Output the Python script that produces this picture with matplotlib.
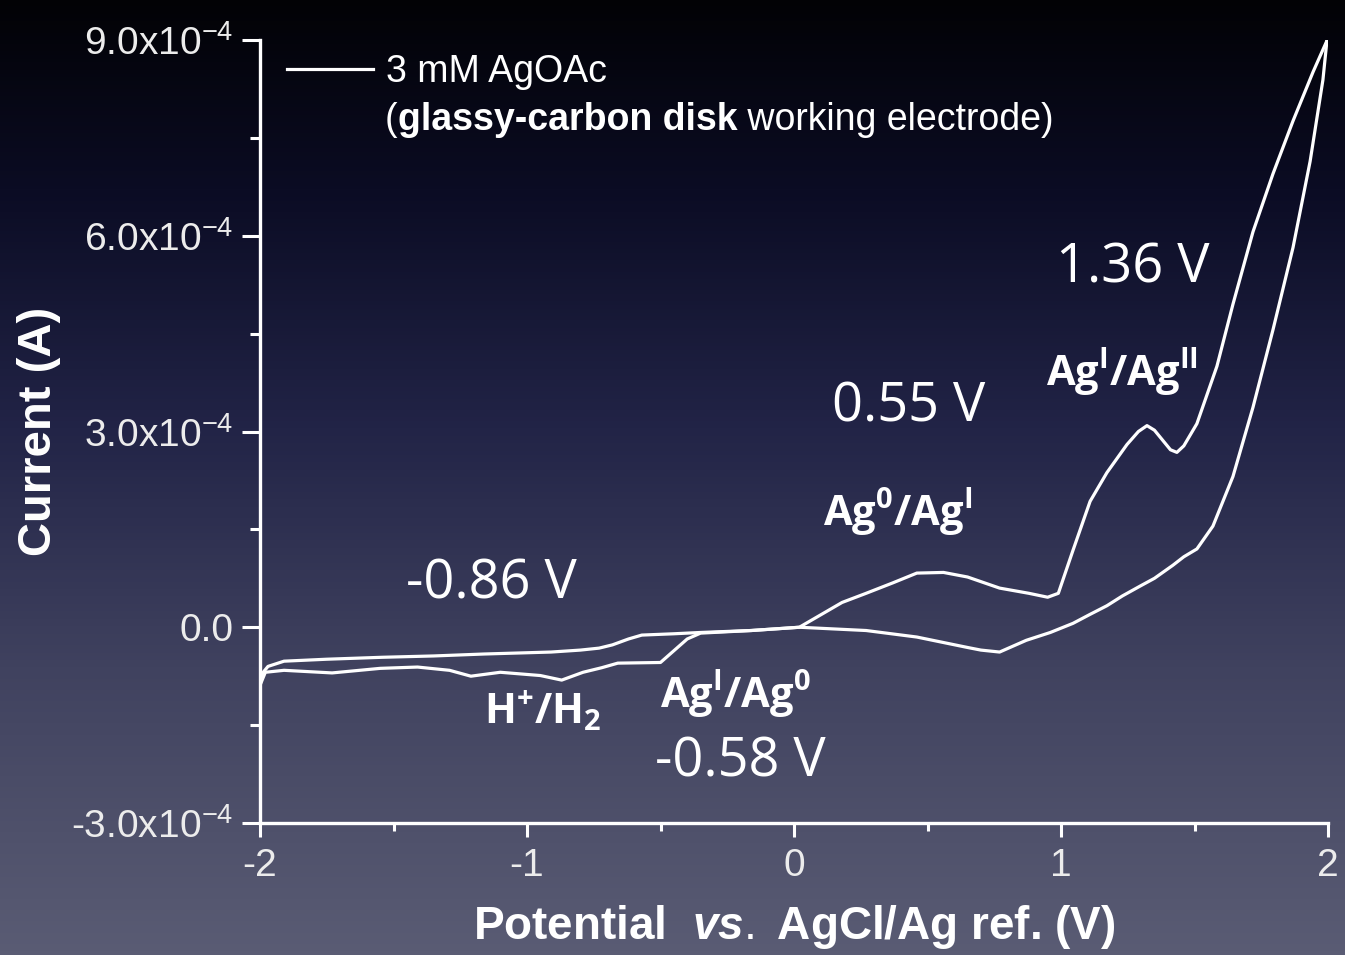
import matplotlib
matplotlib.use('Agg')
import matplotlib.pyplot as plt
import numpy as np
from matplotlib.colors import LinearSegmentedColormap

plt.rcParams['font.family'] = ['Liberation Sans', 'DejaVu Sans']
plt.rcParams['mathtext.fontset'] = 'custom'
plt.rcParams['mathtext.rm'] = 'Liberation Sans'
plt.rcParams['mathtext.it'] = 'Liberation Sans:bold:italic'
plt.rcParams['mathtext.bf'] = 'Open Sans:bold'

# forward scan (-2 V -> 2 V), current in units of 1e-4 A
fwd_v = [-2.0, -1.99, -1.97, -1.91, -1.75, -1.54, -1.35, -1.16, -0.91, -0.80, -0.73, -0.68,
         -0.62, -0.57, -0.45, -0.35, -0.16, 0.02, 0.10, 0.18, 0.27, 0.37, 0.46, 0.56, 0.65,
         0.77, 0.88, 0.95, 0.99, 1.045, 1.109, 1.172, 1.247, 1.29, 1.322, 1.35, 1.382, 1.41,
         1.434, 1.46, 1.509, 1.584, 1.644, 1.719, 1.794, 1.869, 1.944, 1.996]
fwd_i = [-0.89, -0.70, -0.60, -0.52, -0.49, -0.46, -0.44, -0.41, -0.38, -0.35, -0.32, -0.27,
         -0.18, -0.12, -0.10, -0.08, -0.05, 0.0, 0.19, 0.38, 0.52, 0.68, 0.83, 0.84, 0.77,
         0.60, 0.52, 0.46, 0.52, 1.18, 1.93, 2.37, 2.80, 3.00, 3.09, 3.02, 2.86, 2.72,
         2.68, 2.78, 3.12, 4.00, 4.95, 6.06, 6.95, 7.76, 8.51, 8.99]

# reverse scan (2 V -> -2 V)
rev_v = [1.996, 1.981, 1.933, 1.869, 1.794, 1.719, 1.644, 1.569, 1.509, 1.46, 1.419, 1.35,
         1.296, 1.23, 1.172, 1.11, 1.045, 0.96, 0.87, 0.77, 0.70, 0.65, 0.46, 0.27, 0.02,
         -0.16, -0.35, -0.40, -0.45, -0.50, -0.66, -0.72, -0.79, -0.87, -0.95, -1.10, -1.21,
         -1.29, -1.41, -1.55, -1.73, -1.91, -1.98, -2.0]
rev_i = [8.99, 8.39, 7.14, 5.82, 4.56, 3.37, 2.31, 1.55, 1.20, 1.08, 0.95, 0.75,
         0.63, 0.48, 0.33, 0.20, 0.06, -0.08, -0.20, -0.38, -0.35, -0.31, -0.15, -0.05, 0.0,
         -0.05, -0.09, -0.18, -0.36, -0.54, -0.55, -0.62, -0.69, -0.81, -0.74, -0.69, -0.75,
         -0.66, -0.61, -0.63, -0.70, -0.66, -0.69, -0.89]

unit = 1e-4
yticks = [-3e-4, 0.0, 3e-4, 6e-4, 9e-4]
ylabels = ['-3.0x10$^{-4}$', '0.0', '3.0x10$^{-4}$', '6.0x10$^{-4}$', '9.0x10$^{-4}$']
xticks = [-2, -1, 0, 1, 2]

# peak annotations: (text, x, y) in data units
values = [('1.36 V', 1.27, 5.50), ('0.55 V', 0.43, 3.38), ('-0.86 V', -1.135, 0.67),
          ('-0.58 V', -0.20, -2.07)]
couples = [(r'Ag$^{\mathbf{I}}$/Ag$^{\mathbf{II}}$', 1.23, 3.91),
           (r'Ag$^{\mathbf{0}}$/Ag$^{\mathbf{I}}$', 0.39, 1.76),
           (r'Ag$^{\mathbf{I}}$/Ag$^{\mathbf{0}}$', -0.22, -1.03),
           (r'H$^{\mathbf{+}}$/H$_{\mathbf{2}}$', -0.94, -1.30)]

fig = plt.figure(figsize=(13.45, 9.55), dpi=100)
fig.patch.set_facecolor('black')

# background gradient
bg = fig.add_axes([0, 0, 1, 1], zorder=-1)
cmap = LinearSegmentedColormap.from_list('bg', [(0.0, '#5a5c74'), (0.3, '#40425f'),
                                               (0.55, '#222447'), (0.8, '#0b0c24'),
                                               (1.0, '#020205')])
bg.imshow(np.linspace(1, 0, 256).reshape(-1, 1), cmap=cmap, aspect='auto',
          extent=[0, 1, 0, 1])
bg.axis('off')

ax = fig.add_axes([260/1345, 1 - 823/955, 1068/1345, 783/955])
ax.set_facecolor('none')

lw = 2.3
ax.plot(fwd_v, np.array(fwd_i) * unit, color='white', lw=lw, solid_joinstyle='round',
        label='3 mM AgOAc')
ax.plot(rev_v, np.array(rev_i) * unit, color='white', lw=lw, solid_joinstyle='round')

ax.set_xlim(-2, 2)
ax.set_ylim(-3e-4, 9e-4)
for s in ['top', 'right']:
    ax.spines[s].set_visible(False)
for s in ['left', 'bottom']:
    ax.spines[s].set_color('white')
    ax.spines[s].set_linewidth(2.4)

ax.set_xticks(xticks, [str(t) for t in xticks])
ax.set_xticks([-1.5, -0.5, 0.5, 1.5], minor=True)
ax.set_yticks(yticks, ylabels)
ax.set_yticks([-1.5e-4, 1.5e-4, 4.5e-4, 7.5e-4], minor=True)
ax.tick_params(axis='both', which='both', colors='white', width=2.2, direction='out')
ax.tick_params(axis='y', which='major', length=13, pad=6, labelsize=28, labelcolor='#ececec')
ax.tick_params(axis='y', which='minor', length=7)
ax.tick_params(axis='x', which='major', length=10, pad=8, labelsize=28, labelcolor='#ececec')
ax.tick_params(axis='x', which='minor', length=6)

ax.set_xlabel(r'Potential  $\it{vs.}$ AgCl/Ag ref. (V)', color='white', fontsize=33,
              fontweight='bold')
ax.xaxis.set_label_coords(0.5, -0.102)
ax.set_ylabel('Current (A)', color='white', fontsize=34, fontweight='bold')
ax.yaxis.set_label_coords(-0.186, 0.5)

leg = ax.legend(loc='center left', bbox_to_anchor=(0.0253, 0.959), frameon=False,
                fontsize=27, handlelength=2.3, handletextpad=0.35, borderpad=0,
                borderaxespad=0)
for t in leg.get_texts():
    t.set_color('white')

# second legend line with a bold part
fig.canvas.draw()
r = fig.canvas.get_renderer()
x0, y0 = 0.117, 0.898
pieces = [('(', 'normal'), ('glassy-carbon disk', 'bold'), (' working electrode)', 'normal')]
for txt, wt in pieces:
    t = ax.text(x0, y0, txt, transform=ax.transAxes, fontsize=27, fontweight=wt,
                color='white', va='center', ha='left')
    bb = t.get_window_extent(renderer=r)
    x0 = ax.transAxes.inverted().transform((bb.x1, bb.y0))[0]

for txt, xv, yv in values:
    ax.text(xv, yv * unit, txt, color='white', fontsize=39, family='Open Sans',
            ha='center', va='center')
for txt, xv, yv in couples:
    ax.text(xv, yv * unit, txt, color='white', fontsize=30, family='Open Sans',
            fontweight='bold', ha='center', va='center')

plt.savefig('out.png', dpi=100, facecolor=fig.get_facecolor())
